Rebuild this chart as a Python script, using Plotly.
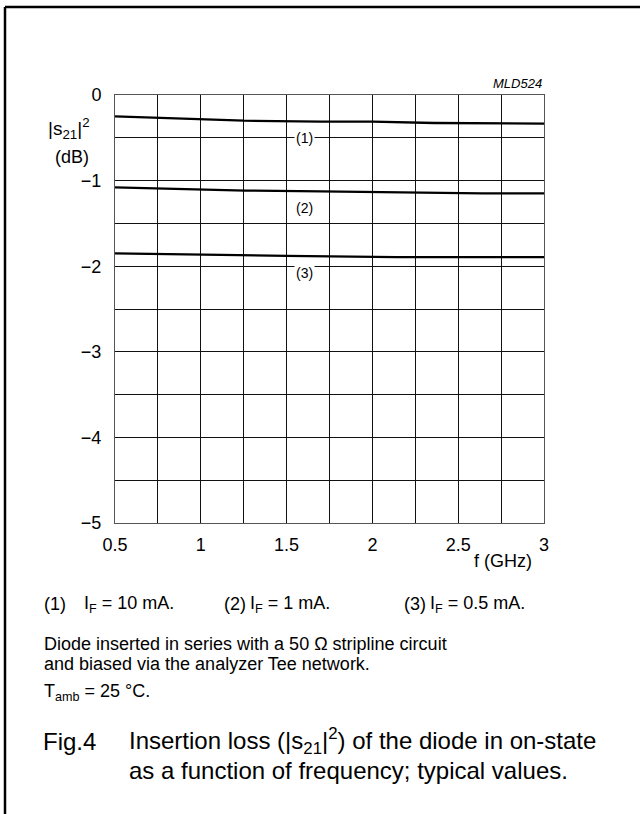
import plotly.graph_objects as go

# frequency (GHz) and insertion loss |s21|^2 (dB)
freq_1 = [0.5, 1.0, 1.25, 1.7, 2.0, 2.36, 2.8, 3.0]
loss_1 = [-0.25, -0.28, -0.30, -0.31, -0.312, -0.327, -0.335, -0.335]

freq_2 = [0.5, 1.26, 1.7, 2.1, 2.64, 3.0]
loss_2 = [-1.078, -1.117, -1.125, -1.137, -1.149, -1.15]

freq_3 = [0.5, 1.0, 1.5, 2.14, 3.0]
loss_3 = [-1.85, -1.869, -1.88, -1.893, -1.893]

curve_labels = ['(1)', '(2)', '(3)']
legend_text = ['I<sub>F</sub> = 10 mA.', 'I<sub>F</sub> = 1 mA.', 'I<sub>F</sub> = 0.5 mA.']

x_ticks = [0.5, 1, 1.5, 2, 2.5, 3]
x_ticktext = ['0.5', '1', '1.5', '2', '2.5', '3']
y_ticks = [0, -1, -2, -3, -4, -5]
y_ticktext = ['0', '\u22121', '\u22122', '\u22123', '\u22124', '\u22125']

# page geometry (pixels)
W, H = 640, 814
L, R, T, B = 115, 544, 95, 523
FONT = 'Liberation Sans, Arial, sans-serif'


def px(x):
    return (x - L) / (R - L)


def py(y):
    return (B - y) / (B - T)


def note(x, y, text, size=18, xanchor='left'):
    return dict(x=px(x), y=py(y), xref='paper', yref='paper',
                xanchor=xanchor, yanchor='middle', text=text,
                showarrow=False, font=dict(size=size))


fig = go.Figure()
for fx, fy in [(freq_1, loss_1), (freq_2, loss_2), (freq_3, loss_3)]:
    fig.add_trace(go.Scatter(x=fx, y=fy, mode='lines',
                             line=dict(color='black', width=2.3),
                             showlegend=False, hoverinfo='skip'))

fig.update_layout(
    width=W, height=H,
    margin=dict(l=L, r=W - R, t=T, b=H - B, pad=0),
    paper_bgcolor='white', plot_bgcolor='white',
    font=dict(family=FONT, size=18, color='black'),
    showlegend=False,
)

fig.update_xaxes(
    range=[0.5, 3], tickvals=x_ticks, ticktext=x_ticktext,
    showgrid=True, gridcolor='#111', gridwidth=1,
    minor=dict(dtick=0.25, tick0=0.5, showgrid=True, gridcolor='#111', gridwidth=1),
    showline=True, mirror=True, linecolor='#555', linewidth=1,
    zeroline=False, ticks='', ticklabelstandoff=5,
    tickfont=dict(size=18),
)
fig.update_yaxes(
    range=[-5, 0], tickvals=y_ticks, ticktext=y_ticktext,
    showgrid=True, gridcolor='#111', gridwidth=1,
    minor=dict(dtick=0.5, tick0=0, showgrid=True, gridcolor='#111', gridwidth=1),
    showline=True, mirror=True, linecolor='#555', linewidth=1,
    zeroline=False, ticks='', ticklabelstandoff=9,
    tickfont=dict(size=18),
)

ann = []

# curve labels sitting on the grid
for lbl, ly in zip(curve_labels, [-0.503, -1.32, -2.076]):
    ann.append(dict(x=1.607, y=ly, xref='x', yref='y', text=lbl, showarrow=False,
                    xanchor='center', yanchor='middle',
                    font=dict(size=14), bgcolor='white', borderpad=1))

# axis titles and code
ann.append(note(92, 129, '|s<sub>21</sub>|<sup>2</sup>', size=19, xanchor='right'))
ann.append(note(72, 157, '(dB)', xanchor='center'))
ann.append(note(503, 561, 'f (GHz)', xanchor='center'))
ann.append(note(544, 83, '<i>MLD524</i>', size=13, xanchor='right'))

# legend row
for lbl, txt, x0, x1 in zip(curve_labels, legend_text, [42, 222, 402], [82, 248, 428]):
    ann.append(note(x0, 604, lbl))
    ann.append(note(x1, 604, txt))

# notes
ann.append(note(42, 644, 'Diode inserted in series with a 50 \u03a9 stripline circuit'))
ann.append(note(42, 664, 'and biased via the analyzer Tee network.'))
ann.append(note(42, 692, 'T<sub>amb</sub> = 25 \u00b0C.'))

# caption
ann.append(note(41, 741, 'Fig.4', size=24))
ann.append(note(127, 741, 'Insertion loss (|s<sub>21</sub>|<sup>2</sup>) of the diode in on-state', size=24))
ann.append(note(127, 771, 'as a function of frequency; typical values.', size=24))

fig.update_layout(annotations=ann)

# page frame: top and left edges
fig.add_shape(type='line', xref='paper', yref='paper',
              x0=px(5), x1=px(W + 10), y0=py(7), y1=py(7),
              line=dict(color='black', width=2.5))
fig.add_shape(type='line', xref='paper', yref='paper',
              x0=px(5), x1=px(5), y0=py(7), y1=py(H + 10),
              line=dict(color='black', width=2.5))

fig.write_html("out.html", config={'displayModeBar': False},
               post_script="document.body.style.margin='0px';")
